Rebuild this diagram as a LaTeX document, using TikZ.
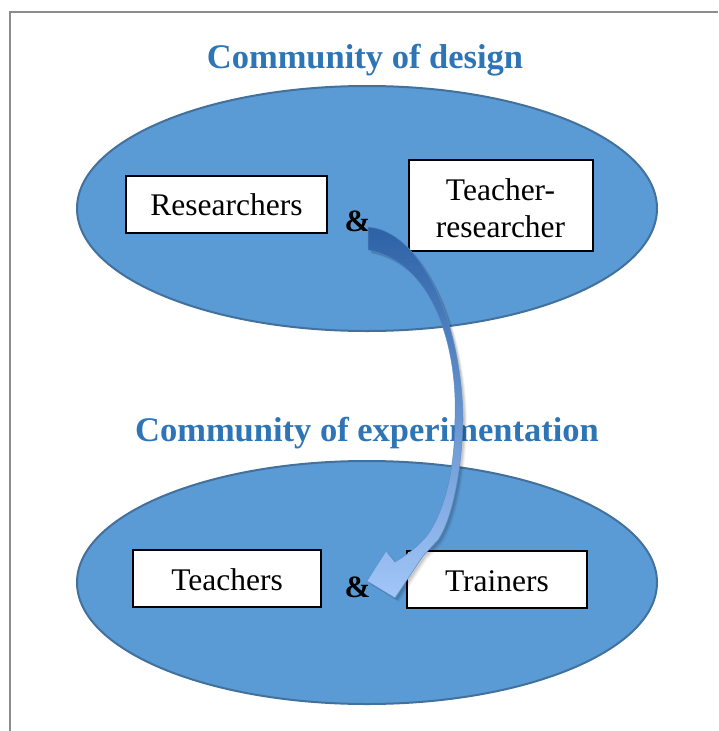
\documentclass[tikz,border=0pt]{standalone}
\usepackage{fontspec}
\setmainfont{Liberation Serif}
\usetikzlibrary{shapes.geometric}
\begin{document}
\begin{tikzpicture}[x=1pt,y=-1pt,
  ell/.style={ellipse,fill=ellblue,draw=elledge,line width=2,inner sep=0pt},
  box/.style={draw=black,fill=white,line width=1.1,inner sep=0pt},
  ttl/.style={anchor=base,text=titleblue,font=\fontsize{34.5}{36}\selectfont\bfseries,inner sep=0pt},
  lbl/.style={anchor=base,font=\fontsize{31.5}{31}\selectfont,inner sep=0pt},
  amp/.style={anchor=base,font=\fontsize{31}{32}\selectfont\bfseries,inner sep=0pt}]
\definecolor{ellblue}{HTML}{5B9BD5}
\definecolor{elledge}{HTML}{41719C}
\definecolor{titleblue}{HTML}{2E75B6}
\definecolor{framegray}{HTML}{8C8C8C}
\definecolor{arrtop}{HTML}{2C62A6}
\definecolor{arrmid}{HTML}{3F7EC6}
\definecolor{arrbot}{HTML}{A2C6F8}
\useasboundingbox (0,0) rectangle (718,731);
\fill[white] (0,0) rectangle (718,731);
% frame
\draw[framegray,line width=2] (10,731) -- (10,11.5) -- (718,11.5);
% titles
\node[ttl] (t1) at (365,68.5) {Community of design};
% ellipses
\node[ell,minimum width=580,minimum height=245] (e1) at (367,208.5) {};
\node[ttl] (t2) at (367,441) {Community of experimentation};
\node[ell,minimum width=580,minimum height=243] (e2) at (367,582.5) {};
% boxes
\node[box,minimum width=201,minimum height=57] (b1) at (226.5,204.5) {};
\node[lbl] (l1) at (226.5,215) {Researchers};
\node[box,minimum width=184,minimum height=91] (b2) at (501,205.5) {};
\node[lbl] (l2a) at (500.5,200) {Teacher-};
\node[lbl] (l2b) at (500.5,237) {researcher};
\node[box,minimum width=188,minimum height=57] (b3) at (227,578.5) {};
\node[lbl] (l3) at (227,590) {Teachers};
\node[box,minimum width=180,minimum height=57] (b4) at (497,579.5) {};
\node[lbl] (l4) at (497,591) {Trainers};
% ampersands
\node[amp] (a1) at (357.5,231) {\&};
\node[amp] (a2) at (357.5,597) {\&};
% curved arrow: soft shadow, then body
\def\arrowpath{(368,227) .. controls (420,230) and (462,320) .. (463,420)
  .. controls (462,470) and (452,520) .. (438,540)
  -- (423,556) -- (395,598) -- (367,581) -- (386,551) -- (395,562)
  .. controls (410,553) and (425,541) .. (432,528)
  .. controls (448,500) and (455,460) .. (455,420)
  .. controls (458,345) and (432,262) .. (368,250) -- cycle}
\foreach \d/\o in {4/0.05,3/0.07,2/0.09}{
  \fill[black,opacity=\o,shift={(\d,\d)}] \arrowpath;
}
\shade[top color=arrtop,middle color=arrmid,bottom color=arrbot,
  draw=arrtop!60!arrbot,line width=0.6,draw opacity=0.8] \arrowpath;
\end{tikzpicture}
\end{document}
